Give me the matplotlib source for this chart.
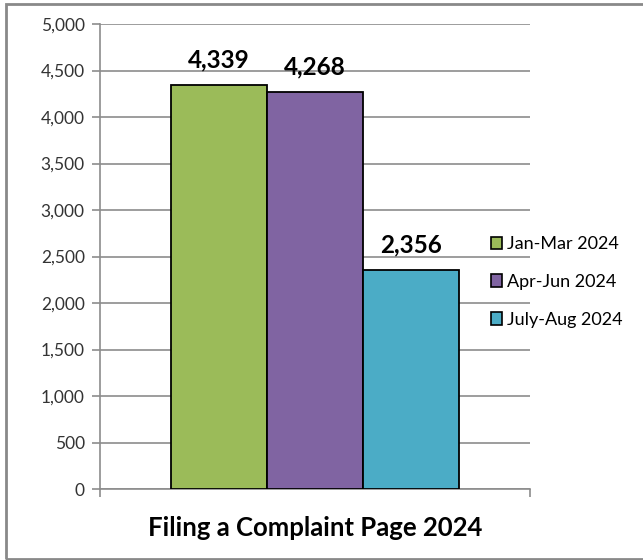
import matplotlib
matplotlib.use("Agg")
import matplotlib.pyplot as plt
from matplotlib.patches import Rectangle, Patch
from matplotlib.ticker import FuncFormatter, MultipleLocator

plt.rcParams['font.family'] = ['Lato', 'DejaVu Sans']

series = ["Jan-Mar 2024", "Apr-Jun 2024", "July-Aug 2024"]
values = [4339, 4268, 2356]
colors = ["#9BBB59", "#8064A2", "#4BACC6"]
category = "Filing a Complaint Page 2024"

fig = plt.figure(figsize=(6.43, 5.60), dpi=100)
ax = fig.add_axes([100/643, 1-489/560, 430/643, 465/560])

bw = 0.223
offsets = [-bw, 0, bw]
for i, (s, v, c) in enumerate(zip(series, values, colors)):
    ax.bar(offsets[i], v, width=bw, color=c, edgecolor="black", linewidth=1.3, label=s, zorder=3)
    ax.annotate(f"{v:,}", xy=(offsets[i], v), xytext=(0, 10), textcoords="offset points",
                ha="center", va="bottom", fontsize=17.5, fontweight="bold",
                color="black", zorder=4)

ax.set_xlim(-0.5, 0.5)
ax.set_ylim(0, 5000)
ax.yaxis.set_major_locator(MultipleLocator(500))
ax.yaxis.set_major_formatter(FuncFormatter(lambda x, p: f"{int(x):,}"))
ax.grid(axis="y", color="#8c8c8c", linewidth=1.2, zorder=0)
ax.set_axisbelow(True)

for sp in ["top", "right"]:
    ax.spines[sp].set_visible(False)
for sp in ["left", "bottom"]:
    ax.spines[sp].set_color("#8c8c8c")
    ax.spines[sp].set_linewidth(1.2)

ax.tick_params(axis="y", length=6, width=1.2, color="#8c8c8c", labelsize=12.5, labelcolor="#333333", pad=5)
ax.set_xticks([-0.5, 0.5])
ax.set_xticklabels(["", ""])
ax.tick_params(axis="x", length=6, width=1.2, color="#8c8c8c")
ax.set_xlabel(category, fontsize=18.5, fontweight="bold", labelpad=10)

handles = [Patch(facecolor=c, edgecolor="black", linewidth=1.2) for c in colors]
fig.legend(handles, series, loc="center left", bbox_to_anchor=(491/643, 1-282/560),
           frameon=False, fontsize=13, handlelength=0.6, handleheight=0.7,
           handletextpad=0.3, labelspacing=1.2, borderaxespad=0, borderpad=0)

fig.patches.append(Rectangle((6/643, 1/560), 1.2, 555/560, transform=fig.transFigure,
                             fill=False, edgecolor="#898989", linewidth=2))

fig.savefig("out.png", dpi=100)
